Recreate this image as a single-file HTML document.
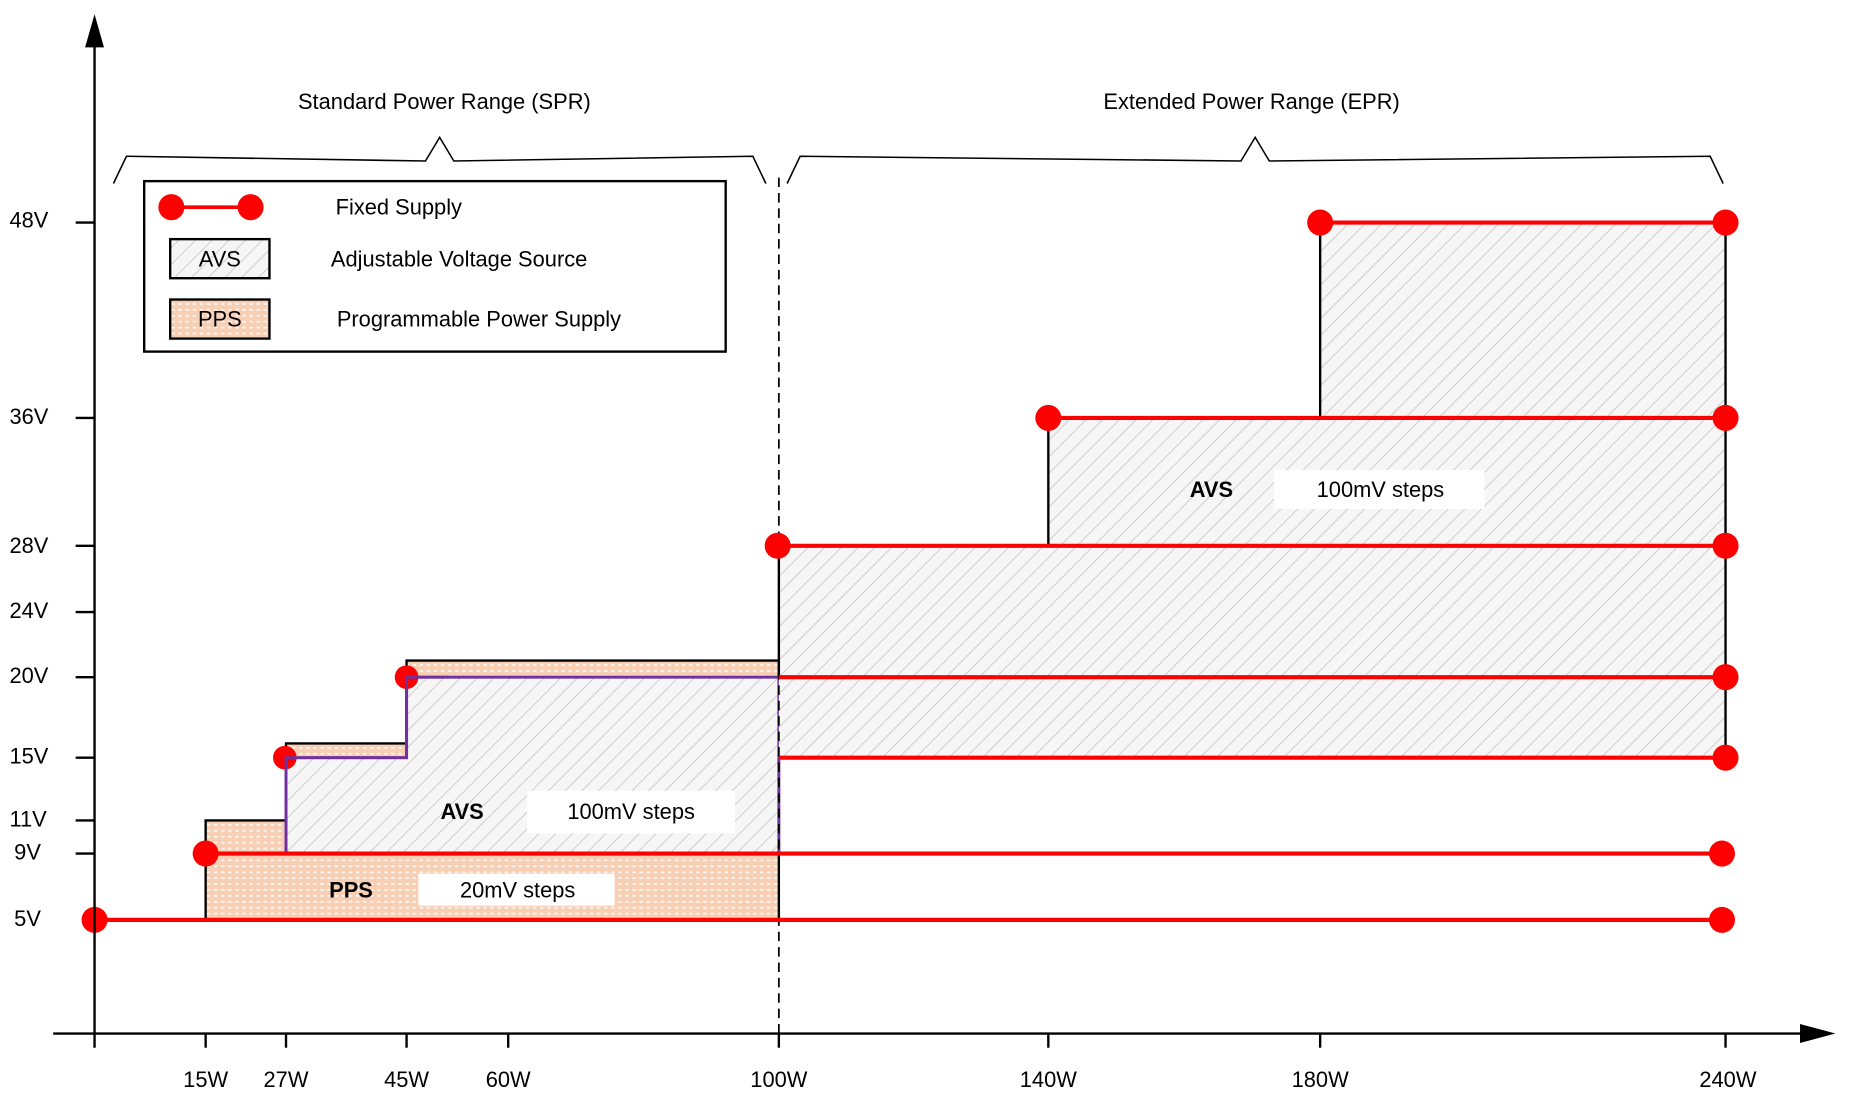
<!DOCTYPE html>
<html><head><meta charset="utf-8"><style>html,body{margin:0;padding:0;background:#fff}svg{display:block}text{font-family:"Liberation Sans",sans-serif;font-size:18.5px;fill:#000}</style></head>
<body>
<svg width="1852" height="1101" viewBox="0 0 1567 930" preserveAspectRatio="none" xmlns="http://www.w3.org/2000/svg">
<defs>
<pattern id="hatch" width="10" height="10" patternUnits="userSpaceOnUse" patternTransform="rotate(45)">
<rect width="10" height="10" fill="#f6f6f6"/><line x1="0" y1="0" x2="0" y2="10" stroke="#c8c8c8" stroke-width="1.5"/></pattern>
<pattern id="dots" width="6" height="5" patternUnits="userSpaceOnUse">
<rect width="6" height="5" fill="#f7cfb4"/><rect x="1" y="1" width="3" height="1.5" fill="#fff" opacity="0.8"/></pattern>
</defs>
<polygon points="174,777 174,693 242,693 242,628 344,628 344,558 659,558 659,777" fill="url(#dots)"/>
<polyline points="174,777 174,693 242,693 242,628 344,628 344,558 659,558 659,777" fill="none" stroke="#000" stroke-width="2"/>
<polygon points="242,721 242,640 344,640 344,572 659,572 659,721" fill="url(#hatch)" stroke="#7030a0" stroke-width="2.5"/>
<polygon points="659,640 1460,640 1460,188 1117,188 1117,353 887,353 887,461 659,461" fill="url(#hatch)"/>
<g stroke="#000" stroke-width="2"><line x1="659" y1="461" x2="659" y2="572"/><line x1="887" y1="353" x2="887" y2="461"/><line x1="1117" y1="188" x2="1117" y2="353"/><line x1="1460" y1="188" x2="1460" y2="640"/></g>
<line x1="659" y1="150" x2="659" y2="873" stroke="#000" stroke-width="1.5" stroke-dasharray="8,5"/>
<g stroke="#f00" stroke-width="3.5">
<line x1="80" y1="777" x2="1457" y2="777"/><line x1="174" y1="721" x2="1457" y2="721"/>
<line x1="659" y1="640" x2="1460" y2="640"/><line x1="659" y1="572" x2="1460" y2="572"/>
<line x1="659" y1="461" x2="1460" y2="461"/><line x1="887" y1="353" x2="1460" y2="353"/>
<line x1="1117" y1="188" x2="1460" y2="188"/>
</g>
<g fill="#f00">
<circle cx="80" cy="777" r="11"/><circle cx="1457" cy="777" r="11"/>
<circle cx="174" cy="721" r="11"/><circle cx="1457" cy="721" r="11"/>
<circle cx="241" cy="640" r="10"/><circle cx="344" cy="572" r="10"/>
<circle cx="1460" cy="640" r="11"/><circle cx="1460" cy="572" r="11"/>
<circle cx="658" cy="461" r="11"/><circle cx="1460" cy="461" r="11"/>
<circle cx="887" cy="353" r="11"/><circle cx="1460" cy="353" r="11"/>
<circle cx="1117" cy="188" r="11"/><circle cx="1460" cy="188" r="11"/>
</g>
<polyline points="242,650 242,640 344,640 344,572 380,572" fill="none" stroke="#7030a0" stroke-width="2.5"/>
<g stroke="#000" stroke-width="2">
<line x1="80" y1="885" x2="80" y2="30"/><line x1="45" y1="873" x2="1530" y2="873"/>
<line x1="174" y1="873" x2="174" y2="885"/><line x1="242" y1="873" x2="242" y2="885"/><line x1="344" y1="873" x2="344" y2="885"/><line x1="430" y1="873" x2="430" y2="885"/><line x1="659" y1="873" x2="659" y2="885"/><line x1="887" y1="873" x2="887" y2="885"/><line x1="1117" y1="873" x2="1117" y2="885"/><line x1="1460" y1="873" x2="1460" y2="885"/>
<line x1="64" y1="188" x2="80" y2="188"/><line x1="64" y1="353" x2="80" y2="353"/><line x1="64" y1="461" x2="80" y2="461"/><line x1="64" y1="517" x2="80" y2="517"/><line x1="64" y1="572" x2="80" y2="572"/><line x1="64" y1="640" x2="80" y2="640"/><line x1="64" y1="693" x2="80" y2="693"/><line x1="64" y1="721" x2="80" y2="721"/>
</g>
<polygon points="80,12 72,40 88,40" fill="#000"/>
<polygon points="1553,873 1523,865 1523,881" fill="#000"/>
<g text-anchor="middle">
<text x="174" y="918">15W</text><text x="242" y="918">27W</text><text x="344" y="918">45W</text><text x="430" y="918">60W</text><text x="659" y="918">100W</text><text x="887" y="918">140W</text><text x="1117" y="918">180W</text><text x="1462" y="918">240W</text>
</g>
<g>
<text x="8" y="192">48V</text><text x="8" y="358">36V</text><text x="8" y="467">28V</text><text x="8" y="522">24V</text><text x="8" y="577">20V</text><text x="8" y="645">15V</text><text x="8" y="698">11V</text><text x="12" y="726">9V</text><text x="12" y="782">5V</text>
</g>
<g fill="none" stroke="#000" stroke-width="1.3">
<path d="M96,155 L107,132 L360,136 L372,116 L384,136 L637,132 L648,155"/>
<path d="M666,155 L677,132 L1050,136 L1062,116 L1074,136 L1447,132 L1458,155"/>
</g>
<text x="376" y="92" text-anchor="middle">Standard Power Range (SPR)</text>
<text x="1059" y="92" text-anchor="middle">Extended Power Range (EPR)</text>
<rect x="122" y="153" width="492" height="144" fill="#fff" stroke="#000" stroke-width="2"/>
<line x1="145" y1="175" x2="212" y2="175" stroke="#f00" stroke-width="3"/>
<circle cx="145" cy="175" r="11" fill="#f00"/><circle cx="212" cy="175" r="11" fill="#f00"/>
<rect x="144" y="202" width="84" height="33" fill="url(#hatch)" stroke="#000" stroke-width="2"/>
<rect x="144" y="253" width="84" height="33" fill="url(#dots)" stroke="#000" stroke-width="2"/>
<text x="186" y="225" text-anchor="middle">AVS</text><text x="186" y="276" text-anchor="middle">PPS</text>
<text x="284" y="181">Fixed Supply</text>
<text x="280" y="225">Adjustable Voltage Source</text>
<text x="285" y="276">Programmable Power Supply</text>
<rect x="1078" y="397" width="178" height="33" fill="#fff"/>
<text x="1025" y="420" text-anchor="middle" font-weight="bold">AVS</text>
<text x="1168" y="420" text-anchor="middle">100mV steps</text>
<rect x="446" y="668" width="176" height="36" fill="#fff"/>
<text x="391" y="692" text-anchor="middle" font-weight="bold">AVS</text>
<text x="534" y="692" text-anchor="middle">100mV steps</text>
<rect x="354" y="738" width="166" height="27" fill="#fff"/>
<text x="297" y="758" text-anchor="middle" font-weight="bold">PPS</text>
<text x="438" y="758" text-anchor="middle">20mV steps</text>
</svg>
</body></html>
